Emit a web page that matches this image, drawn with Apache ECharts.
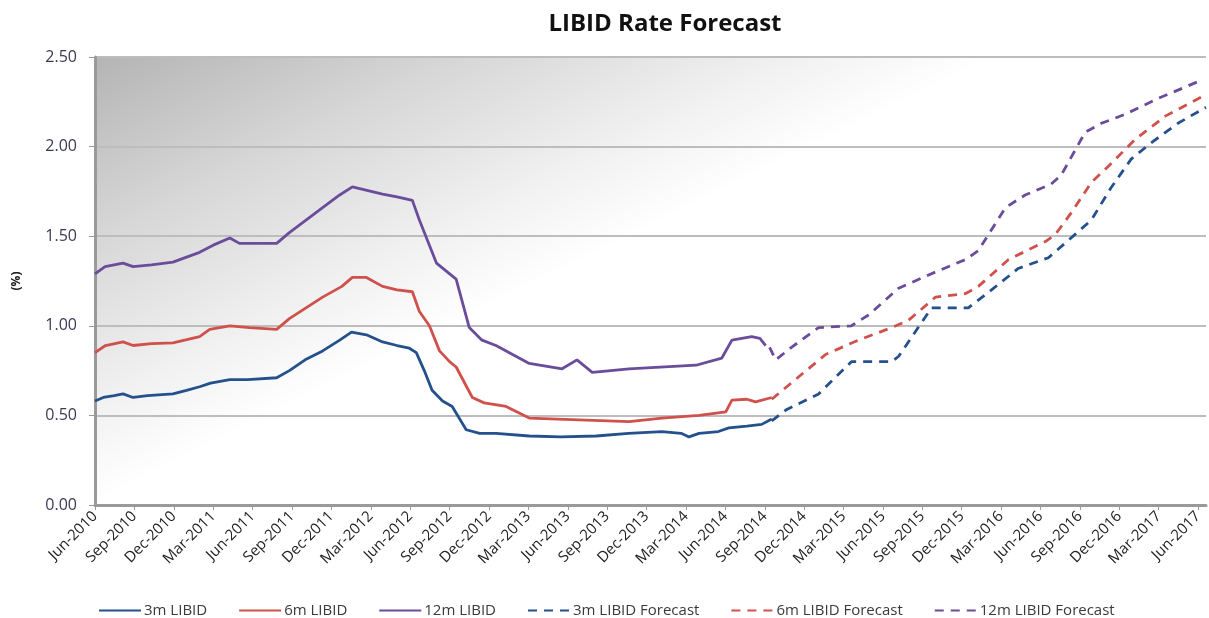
<!DOCTYPE html>
<html>
<head>
<meta charset="utf-8">
<script src="https://cdn.jsdelivr.net/npm/echarts@6/dist/echarts.min.js"></script>
<style>html,body{margin:0;padding:0;background:#fff}#c{width:1209px;height:618px}</style>
</head>
<body>
<div id="c"></div>
<script>
// ---- Data ----
const xTickLabels = ['Jun-2010','Sep-2010','Dec-2010','Mar-2011','Jun-2011','Sep-2011','Dec-2011','Mar-2012','Jun-2012','Sep-2012','Dec-2012','Mar-2013','Jun-2013','Sep-2013','Dec-2013','Mar-2014','Jun-2014','Sep-2014','Dec-2014','Mar-2015','Jun-2015','Sep-2015','Dec-2015','Mar-2016','Jun-2016','Sep-2016','Dec-2016','Mar-2017','Jun-2017'];
const seriesNames = ['3m LIBID','6m LIBID','12m LIBID','3m LIBID Forecast','6m LIBID Forecast','12m LIBID Forecast'];

const libid3m = [
 ['2010-06-01',0.58],['2010-06-20',0.60],['2010-07-15',0.61],['2010-08-05',0.62],['2010-08-28',0.60],['2010-10-01',0.61],
 ['2010-11-29',0.62],['2010-12-30',0.64],['2011-01-30',0.66],['2011-02-25',0.68],['2011-04-09',0.70],['2011-05-20',0.70],
 ['2011-07-26',0.71],['2011-08-25',0.75],['2011-10-01',0.81],['2011-11-11',0.86],['2011-12-20',0.92],['2012-01-17',0.965],
 ['2012-02-21',0.95],['2012-03-28',0.91],['2012-05-01',0.89],['2012-05-29',0.875],['2012-06-15',0.85],['2012-07-05',0.74],
 ['2012-07-21',0.64],['2012-08-15',0.58],['2012-09-07',0.55],['2012-10-09',0.42],['2012-11-10',0.40],['2012-12-17',0.40],
 ['2013-03-03',0.385],['2013-05-15',0.38],['2013-08-06',0.385],['2013-10-20',0.40],['2014-01-06',0.41],['2014-02-20',0.40],
 ['2014-03-08',0.38],['2014-04-01',0.40],['2014-05-15',0.41],['2014-06-09',0.43],['2014-07-20',0.44],['2014-08-24',0.45],['2014-09-17',0.48]
];
const libid6m = [
 ['2010-06-01',0.85],['2010-06-25',0.89],['2010-08-05',0.91],['2010-08-28',0.89],['2010-10-10',0.90],['2010-11-29',0.905],
 ['2011-01-30',0.94],['2011-02-23',0.98],['2011-04-09',1.00],['2011-05-24',0.99],['2011-07-26',0.98],['2011-08-25',1.04],
 ['2011-11-11',1.16],['2011-12-25',1.22],['2012-01-19',1.27],['2012-02-21',1.27],['2012-03-28',1.22],['2012-05-01',1.20],
 ['2012-06-06',1.19],['2012-06-22',1.08],['2012-07-15',1.00],['2012-08-08',0.86],['2012-09-01',0.80],['2012-09-16',0.77],
 ['2012-10-23',0.60],['2012-11-20',0.57],['2013-01-10',0.55],['2013-03-03',0.485],['2013-06-27',0.475],['2013-10-21',0.465],
 ['2014-01-06',0.485],['2014-04-01',0.50],['2014-06-02',0.52],['2014-06-16',0.585],['2014-07-20',0.59],['2014-08-10',0.575],['2014-09-17',0.60]
];
const libid12m = [
 ['2010-06-01',1.29],['2010-06-24',1.33],['2010-08-05',1.35],['2010-08-28',1.33],['2010-10-10',1.34],['2010-11-29',1.355],
 ['2011-01-30',1.41],['2011-03-01',1.45],['2011-04-09',1.49],['2011-05-01',1.46],['2011-07-26',1.46],['2011-08-25',1.52],
 ['2011-11-11',1.66],['2011-12-20',1.73],['2012-01-19',1.775],['2012-03-28',1.735],['2012-05-01',1.72],['2012-06-06',1.70],
 ['2012-06-22',1.59],['2012-08-01',1.35],['2012-09-16',1.26],['2012-10-16',0.99],['2012-11-15',0.92],['2012-12-17',0.89],
 ['2013-03-03',0.79],['2013-05-18',0.76],['2013-06-22',0.81],['2013-07-27',0.74],['2013-10-21',0.76],['2014-03-24',0.78],
 ['2014-05-23',0.82],['2014-06-16',0.92],['2014-08-01',0.94],['2014-08-20',0.93],['2014-09-03',0.89]
];
const fc3m = [
 ['2014-09-17',0.47],['2014-10-19',0.53],['2015-01-04',0.62],['2015-03-19',0.80],['2015-06-21',0.80],['2015-07-07',0.83],
 ['2015-09-22',1.10],['2015-12-16',1.10],['2016-02-09',1.20],['2016-04-10',1.32],['2016-06-19',1.38],['2016-08-20',1.51],
 ['2016-09-27',1.59],['2016-11-12',1.77],['2016-12-28',1.93],['2017-02-13',2.02],['2017-04-15',2.13],['2017-06-19',2.22]
];
const fc6m = [
 ['2014-09-17',0.59],['2014-11-11',0.70],['2015-01-20',0.84],['2015-04-05',0.92],['2015-06-21',0.99],['2015-07-29',1.03],
 ['2015-10-01',1.16],['2015-12-10',1.18],['2016-01-09',1.22],['2016-03-18',1.37],['2016-06-12',1.47],['2016-07-05',1.51],
 ['2016-08-11',1.63],['2016-09-27',1.80],['2016-11-06',1.89],['2017-01-07',2.04],['2017-03-16',2.17],['2017-06-19',2.29]
];
const fc12m = [
 ['2014-09-12',0.88],['2014-09-26',0.81],['2014-11-02',0.88],['2015-01-04',0.99],['2015-03-19',1.00],['2015-04-28',1.06],
 ['2015-07-07',1.21],['2015-10-01',1.30],['2015-12-10',1.37],['2016-01-09',1.42],['2016-03-11',1.66],['2016-04-26',1.73],
 ['2016-06-25',1.79],['2016-07-18',1.84],['2016-09-13',2.08],['2016-10-20',2.13],['2016-12-14',2.18],['2017-03-01',2.27],['2017-06-08',2.37]
];

// ---- Build ----
function mIdx(s){const p=s.split('-').map(Number);return (p[0]-2010)*12+(p[1]-6)+(p[2]-1)/30;}
function conv(a){return a.map(d=>[mIdx(d[0]),d[1]]);}
const colors = ['#24508c','#d0504c','#6a4c9a','#24508c','#d0504c','#6a4c9a'];
const datas = [libid3m,libid6m,libid12m,fc3m,fc6m,fc12m];
const font = '"Open Sans", sans-serif';

const chart = echarts.init(document.getElementById('c'));
chart.setOption({
  animation:false,
  backgroundColor:'#ffffff',
  title:{text:'LIBID Rate Forecast',left:660,top:7,textAlign:'center',
    textStyle:{fontFamily:font,fontSize:24,fontWeight:'bold',color:'#111'}},
  grid:{left:95,right:3,top:57,bottom:113,show:true,borderWidth:0,
    backgroundColor:new echarts.graphic.LinearGradient(0,0,0.16,0.8,[
      {offset:0,color:'#b4b4b4'},{offset:0.4,color:'#d6d6d6'},{offset:0.78,color:'#f1f1f1'},{offset:1,color:'#ffffff'}])},
  legend:{top:598,left:93,itemWidth:42,itemHeight:10,itemGap:31,
    data:seriesNames,
    itemStyle:{opacity:0,color:'transparent',borderWidth:0},
    textStyle:{fontFamily:font,fontSize:15,color:'#3a3a3a',padding:[0,0,0,-2]}},
  xAxis:{type:'value',min:0,max:84.6,interval:3,
    axisLine:{show:true,lineStyle:{color:'#9a9a9a',width:3}},
    axisTick:{show:true,length:5,lineStyle:{color:'#9a9a9a',width:1}},
    splitLine:{show:false},
    axisLabel:{rotate:45,margin:9,fontFamily:font,fontSize:15,color:'#222',showMaxLabel:false,
      formatter:v=>{const i=Math.round(v/3);return Math.abs(v-i*3)<1e-6&&xTickLabels[i]?xTickLabels[i]:'';}}},
  yAxis:{type:'value',min:0,max:2.5,interval:0.5,name:'(%)',nameLocation:'middle',nameGap:72,nameRotate:90,
    nameTextStyle:{fontFamily:font,fontSize:12,fontWeight:'bold',color:'#222'},
    axisLine:{show:true,lineStyle:{color:'#9a9a9a',width:3}},
    axisTick:{show:true,length:6,lineStyle:{color:'#9a9a9a',width:1}},
    splitLine:{show:true,lineStyle:{color:'#bdbdbd',width:2}},
    axisLabel:{margin:18,fontFamily:font,fontSize:16,color:'#3a3a55',formatter:v=>v.toFixed(2)}},
  series:datas.map((d,i)=>({
    name:seriesNames[i],type:'line',data:conv(d),symbol:'none',showSymbol:false,
    lineStyle:{color:colors[i],width:2.8,type:i<3?'solid':[9,7]},
    itemStyle:{color:colors[i]},z:2
  }))
});
</script>
</body>
</html>
